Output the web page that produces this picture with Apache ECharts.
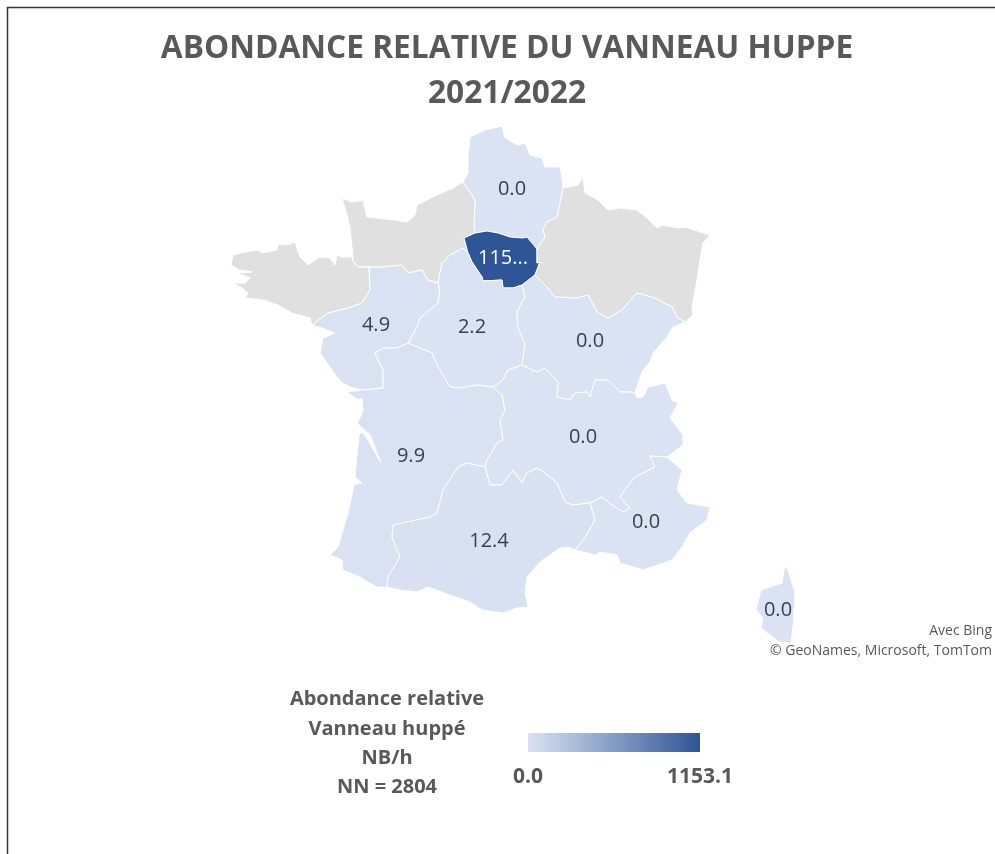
<!DOCTYPE html>
<html>
<head>
<meta charset="utf-8">
<style>html,body{margin:0;padding:0;background:#fff}#chart{width:995px;height:854px}</style>
<script src="https://cdn.jsdelivr.net/npm/echarts@6/dist/echarts.min.js"></script>
</head>
<body>
<div id="chart"></div>
<script>
// valeurs par région (null = pas de donnée, en gris)
const regionNames = ['Hauts-de-France', 'Normandie', 'Ile-de-France', 'Grand Est', 'Bretagne', 'Pays de la Loire',
    'Centre-Val de Loire', 'Bourgogne-Franche-Comté', 'Nouvelle-Aquitaine', 'Auvergne-Rhône-Alpes', 'Occitanie',
    "Provence-Alpes-Côte d'Azur", 'Corse'];
const regionValues = [0.0, null, 1153.1, null, null, 4.9, 2.2, 0.0, 9.9, 0.0, 12.4, 0.0, 0.0];
const scaleMin = 0.0;
const scaleMax = 1153.1;
const scaleColors = ['#d9e3f3', '#2e5597'];
const titleLines = ['ABONDANCE RELATIVE DU VANNEAU HUPPE', '2021/2022'];
const legendLines = ['Abondance relative', 'Vanneau huppé', 'NB/h', 'NN = 2804'];
const creditLines = ['Avec Bing', '© GeoNames, Microsoft, TomTom'];

// tracé des frontières, partagé entre régions voisines
const borders = {
    hautsCoast: [[463,182],[468,173],[468,157],[470,137],[485,130],[502,126],[505,138],[518,145],[525,143],[530,155],[542,158],[545,167],[560,167],[562,178],[563,188]],
    hautsGrandEst: [[563,188],[560,203],[557,217],[547,222],[543,230],[545,237],[537,249]],
    hautsIdf: [[537,249],[527,237],[523,238],[510,237],[498,233],[487,231],[475,233]],
    hautsNormandie: [[463,182],[475,200],[474,227],[475,233]],
    normandieIdf: [[475,233],[464,238],[468,253]],
    idfGrandEst: [[537,249],[537,263],[540,262],[535,275]],
    idfBourgogne: [[535,275],[522,285]],
    idfCentre: [[522,285],[513,288],[503,288],[502,280],[483,281],[482,277],[472,262],[468,253]],
    normandieCentre: [[468,253],[463,248],[450,255],[442,263],[438,283]],
    normandieLoire: [[438,283],[428,280],[422,270],[408,273],[402,265],[383,267],[369,267]],
    normandieBretagne: [[369,267],[358,267],[352,260],[353,257]],
    normandieCoast: [[463,182],[453,188],[437,195],[417,205],[415,215],[407,222],[395,220],[367,217],[363,200],[352,202],[342,198],[347,215],[350,228],[353,257]],
    bretagneCoast: [[353,257],[342,257],[337,255],[335,265],[330,258],[320,257],[308,265],[300,257],[295,242],[288,245],[278,244],[277,250],[263,253],[258,250],[245,252],[233,255],[231,265],[240,270],[252,272],[238,273],[250,278],[245,283],[233,283],[242,288],[248,293],[245,298],[263,300],[278,305],[292,313],[310,318],[312,325]],
    bretagneLoire: [[312,325],[328,313],[348,308],[362,303],[370,290],[369,267]],
    loireCoast: [[312,325],[322,328],[335,333],[323,338],[320,353],[332,370],[342,383],[353,388],[362,390]],
    loireAquitaine: [[362,390],[383,388],[383,370],[375,353],[383,348],[397,348],[408,343]],
    loireCentre: [[408,343],[417,327],[420,318],[438,303],[440,290],[438,283]],
    centreAquitaine: [[408,343],[432,353],[438,367],[450,387],[460,388],[477,385],[493,387]],
    centreAuvergne: [[493,387],[503,380],[508,370],[522,365]],
    centreBourgogne: [[522,365],[525,345],[518,327],[517,312],[525,297],[522,285]],
    bourgogneAuvergne: [[522,365],[537,372],[545,368],[558,382],[557,397],[570,400],[575,393],[587,392],[590,397],[595,380],[608,380],[620,392],[630,392],[635,393]],
    grandEstBourgogne: [[535,275],[545,285],[555,297],[577,298],[588,295],[597,312],[608,318],[622,310],[637,293],[655,298],[672,307],[677,317],[685,322]],
    grandEstEast: [[563,188],[578,185],[583,177],[585,193],[598,200],[608,210],[620,208],[637,210],[647,218],[657,228],[663,225],[678,228],[685,227],[710,235],[703,243],[700,260],[697,280],[692,307],[693,315],[685,322]],
    bourgogneEast: [[685,322],[673,327],[667,337],[653,353],[650,362],[643,370],[638,383],[635,393]],
    auvergneEast: [[635,393],[637,398],[643,397],[648,387],[665,383],[672,400],[678,403],[670,418],[683,435],[683,445],[667,457]],
    auvergnePaca: [[667,457],[650,456],[655,467],[635,477],[627,487],[620,497],[630,508],[623,512],[612,505],[602,497],[590,503]],
    auvergneOccitanie: [[590,503],[573,505],[565,502],[557,483],[545,473],[537,468],[527,473],[522,483],[513,470],[502,485],[490,485],[485,467]],
    aquitaineAuvergne: [[485,467],[487,460],[497,443],[503,440],[500,420],[505,410],[502,395],[493,387]],
    aquitaineCoast: [[362,390],[347,392],[358,400],[362,398],[363,410],[360,418],[357,423],[370,435],[375,447],[381,463],[375,453],[368,440],[362,432],[359,435],[355,477],[362,483],[354,485],[348,513],[338,547],[330,555],[342,560],[343,570],[360,577],[377,587],[387,587]],
    aquitaineOccitanie: [[387,587],[388,577],[400,557],[392,537],[393,525],[407,522],[430,517],[437,513],[443,490],[458,467],[467,463],[485,467]],
    occitanieCoast: [[387,587],[400,590],[417,592],[428,587],[450,595],[470,602],[482,610],[503,613],[517,608],[528,607],[525,593],[527,577],[540,562],[560,548],[568,547],[575,550]],
    occitaniePaca: [[575,550],[585,538],[595,520],[590,503]],
    pacaCoast: [[667,457],[682,470],[677,490],[687,503],[710,507],[707,520],[690,533],[682,547],[672,560],[643,570],[620,563],[617,555],[600,552],[595,555],[575,550]],
    corse: [[786,565],[791,580],[795,593],[793,627],[791,643],[779,642],[761,628],[763,618],[756,610],[761,590],[782,583],[784,570],[786,565]]
};
const regionRings = [
    ['hautsCoast', 'hautsGrandEst', 'hautsIdf', '-hautsNormandie'],
    ['normandieCoast', '-normandieBretagne', '-normandieLoire', '-normandieCentre', '-normandieIdf', '-hautsNormandie'],
    ['-hautsIdf', 'idfGrandEst', 'idfBourgogne', 'idfCentre', '-normandieIdf'],
    ['grandEstEast', '-grandEstBourgogne', '-idfGrandEst', '-hautsGrandEst'],
    ['bretagneCoast', 'bretagneLoire', 'normandieBretagne'],
    ['loireCoast', 'loireAquitaine', 'loireCentre', 'normandieLoire', '-bretagneLoire'],
    ['normandieCentre', '-loireCentre', 'centreAquitaine', 'centreAuvergne', 'centreBourgogne', 'idfCentre'],
    ['-idfBourgogne', 'grandEstBourgogne', 'bourgogneEast', '-bourgogneAuvergne', 'centreBourgogne'],
    ['-loireAquitaine', 'aquitaineCoast', 'aquitaineOccitanie', 'aquitaineAuvergne', '-centreAquitaine'],
    ['-centreAuvergne', '-aquitaineAuvergne', '-auvergneOccitanie', '-auvergnePaca', '-auvergneEast', '-bourgogneAuvergne'],
    ['-aquitaineOccitanie', 'occitanieCoast', 'occitaniePaca', 'auvergneOccitanie'],
    ['-occitaniePaca', '-pacaCoast', 'auvergnePaca'],
    ['corse']
];
// position des étiquettes
const labelAnchors = [[512,189],[410,240],[503,258],[620,250],[300,280],[376,325],[472,327],[590,341],[411,456],[583,437],[489,541],[646,522],[778,610]];

function buildRing(names) {
    let ring = [];
    names.forEach(function (n) {
        const rev = n[0] === '-';
        const pts = borders[rev ? n.slice(1) : n].slice();
        if (rev) pts.reverse();
        ring = ring.concat(ring.length ? pts.slice(1) : pts);
    });
    return ring;
}

const features = regionNames.map(function (name, i) {
    return {
        type: 'Feature',
        properties: { name: name, cp: labelAnchors[i] },
        geometry: { type: 'Polygon', coordinates: [buildRing(regionRings[i])] }
    };
});
echarts.registerMap('france', { type: 'FeatureCollection', features: features });

// on garde l'échelle de l'image : la boîte du tracé = ses coordonnées
let xs = [], ys = [];
Object.keys(borders).forEach(function (k) {
    borders[k].forEach(function (p) { xs.push(p[0]); ys.push(p[1]); });
});
const left = Math.min.apply(null, xs), right = Math.max.apply(null, xs);
const top_ = Math.min.apply(null, ys), bottom = Math.max.apply(null, ys);

const seriesData = regionNames.map(function (name, i) {
    const v = regionValues[i];
    const item = { name: name, value: v === null ? NaN : v };
    if (v !== null && v > scaleMax / 2) {
        item.label = { color: '#fff', width: 56, overflow: 'truncate', ellipsis: '...' };
    }
    return item;
});

const textColor = '#595959';
const titles = [{
    text: titleLines.join('\n'),
    left: 507, top: 26, textAlign: 'center',
    textStyle: { fontFamily: 'Open Sans', fontSize: 31.7, fontWeight: 700, color: textColor, lineHeight: 45 }
}, {
    text: legendLines.join('\n'),
    left: 387, top: 685, textAlign: 'center',
    textStyle: { fontFamily: 'Open Sans', fontSize: 20, fontWeight: 700, color: textColor, lineHeight: 29.3 }
}, {
    text: scaleMin.toFixed(1),
    left: 528, top: 767, textAlign: 'center',
    textStyle: { fontFamily: 'Open Sans', fontSize: 21, fontWeight: 700, color: textColor }
}, {
    text: scaleMax.toFixed(1),
    left: 700, top: 767, textAlign: 'center',
    textStyle: { fontFamily: 'Open Sans', fontSize: 21, fontWeight: 700, color: textColor }
}, {
    text: creditLines.join('\n'),
    left: 992, top: 621, textAlign: 'right',
    textStyle: { fontFamily: 'Open Sans', fontSize: 14, fontWeight: 400, color: textColor, align: 'right', lineHeight: 20 }
}];

const chart = echarts.init(document.getElementById('chart'));
chart.setOption({
    animation: false,
    backgroundColor: '#fff',
    title: titles.map(function (t) { t.padding = 0; return t; }),
    graphic: [{
        type: 'rect',
        silent: true,
        shape: { x: 7.5, y: 7.5, width: 1100, height: 1000 },
        style: { fill: 'none', stroke: '#1f3864', lineWidth: 1.5 }
    }, {
        // la barre du visualMap a des coins arrondis en dur, donc barre dessinée à part
        type: 'rect',
        silent: true,
        shape: { x: 528, y: 733, width: 172, height: 19 },
        style: {
            fill: new echarts.graphic.LinearGradient(0, 0, 1, 0, [
                { offset: 0, color: scaleColors[0] },
                { offset: 1, color: scaleColors[1] }
            ])
        }
    }],
    visualMap: {
        type: 'continuous',
        show: false,
        min: scaleMin,
        max: scaleMax,
        inRange: { color: scaleColors },
        outOfRange: { color: '#e0e0e0' }
    },
    series: [{
        type: 'map',
        map: 'france',
        projection: {
            project: function (p) { return p; },
            unproject: function (p) { return p; }
        },
        left: left,
        top: top_,
        width: right - left,
        height: bottom - top_,
        silent: true,
        roam: false,
        itemStyle: { areaColor: '#e0e0e0', borderColor: '#fff', borderWidth: 1 },
        emphasis: { disabled: true },
        label: {
            show: true,
            fontFamily: 'Open Sans',
            fontSize: 20,
            color: '#3a3f4b',
            formatter: function (p) {
                return isNaN(p.value) ? '' : p.value.toFixed(1);
            }
        },
        data: seriesData
    }]
});
</script>
</body>
</html>
